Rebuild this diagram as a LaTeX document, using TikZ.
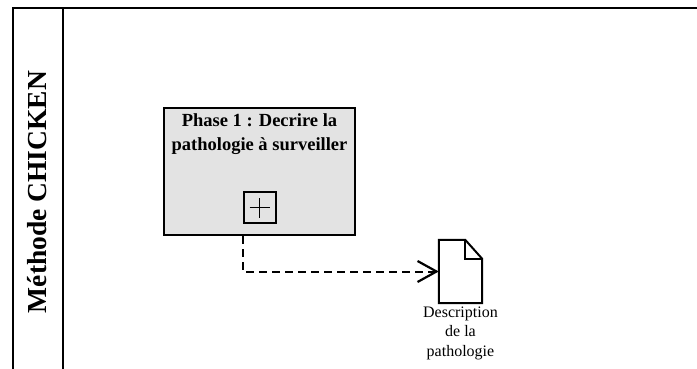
\documentclass[tikz,border=0pt]{standalone}
\usepackage{fontspec}
\setmainfont{Liberation Serif}
\usetikzlibrary{arrows.meta,positioning}

\tikzset{
	lane/.style={line width=2pt},
	task/.style={draw,line width=2pt,fill=black!11,minimum width=191pt,minimum height=127pt,inner sep=0pt},
	marker/.style={draw,line width=2pt,minimum width=32pt,minimum height=31pt,inner sep=0pt},
	flow/.style={line width=2pt,dash pattern=on 8pt off 5pt,-{Straight Barb[length=19pt,width=21pt,line width=2.2pt]}}
}

\begin{document}
\begin{tikzpicture}[x=1pt,y=-1pt]
			\useasboundingbox (0,0) rectangle (697,369);
			% pool and lane
			\draw[lane] (13,369) -- (13,8) -- (697,8);
			\draw[lane] (63,8) -- (63,369);
			\node[rotate=90,font=\bfseries\fontsize{27.5}{30}\selectfont] (pool) at (37,192) {Méthode CHICKEN};
			% sub-process
			\node[task] (phase1) at (259.5,171.5) {};
			\node[below=3pt of phase1.north,align=center,font=\bfseries\fontsize{18.5}{24}\selectfont] (phase1text) {Phase 1 : Decrire la\\pathologie à surveiller};
			\node[marker] (plus) at (259.5,207.5) {};
			\draw[line width=1.8pt] ([yshift=-10pt]plus.center) -- ([yshift=10pt]plus.center);
			\draw[line width=1.8pt] ([xshift=-10pt]plus.center) -- ([xshift=10pt]plus.center);
			% data object
			\node[minimum width=43pt,minimum height=63pt,inner sep=0pt] (doc) at (460.5,271.5) {};
			\draw[line width=2pt,fill=white] (doc.north west) -- ([xshift=-17pt]doc.north east) -- ([yshift=-19pt]doc.north east) -- (doc.south east) -- (doc.south west) -- cycle;
			\draw[line width=2pt] ([xshift=-17pt]doc.north east) -- ([xshift=-17pt,yshift=-19pt]doc.north east) -- ([yshift=-19pt]doc.north east);
			\node[below=0pt of doc,align=center,font=\fontsize{16}{19.5}\selectfont] (doclabel) {Description\\de la\\pathologie};
			% association
			\draw[flow] (plus.west |- phase1.south) |- (doc.west);
		\end{tikzpicture}
\end{document}
